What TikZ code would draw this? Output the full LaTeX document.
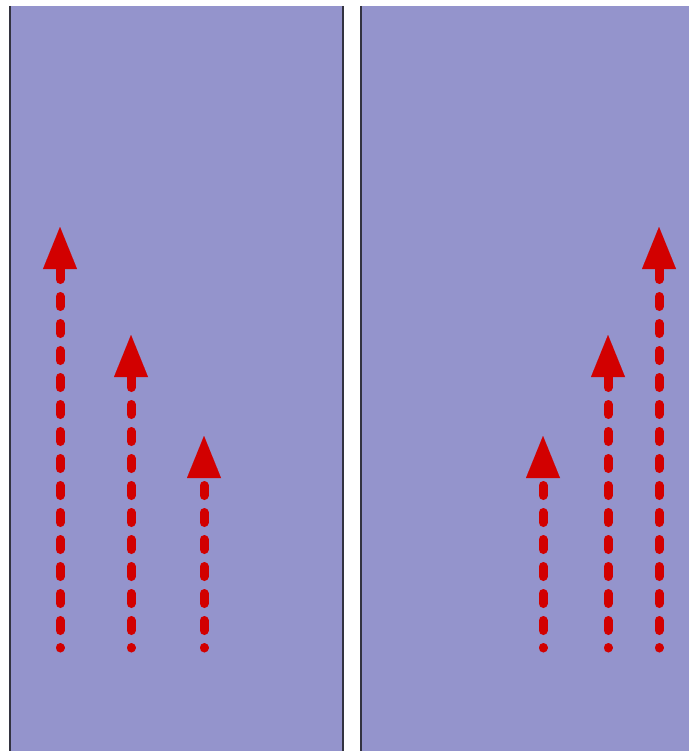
\documentclass[tikz,border=0pt]{standalone}
\usetikzlibrary{arrows.meta}
\definecolor{panelfill}{HTML}{9494CC}
\definecolor{arrowred}{HTML}{D20000}
\definecolor{edge}{HTML}{333340}
\tikzset{
  panel/.style={fill=panelfill, draw=none},
  paneledge/.style={draw=edge, line width=2.2pt},
  flowarrow/.style={draw=arrowred, line width=9pt, line cap=round,
    dash pattern=on 10pt off 17pt, dash phase=9.5pt,
    -{Triangle[width=34pt,length=42pt,line width=0.01pt,fill=arrowred]}}
}
\begin{document}
\begin{tikzpicture}[x=1pt,y=-1pt]
\useasboundingbox (0,0) rectangle (689,751);
% panels
\fill[panel] (10,6) rectangle (343,751);
\fill[panel] (361,6) rectangle (689,751);
\draw[paneledge] (10,6) -- (10,751);
\draw[paneledge] (343,6) -- (343,751);
\draw[paneledge] (361,6) -- (361,751);
% arrow end points
\coordinate (l1s) at (60,648);  \coordinate (l1e) at (60,227);
\coordinate (l2s) at (131,648); \coordinate (l2e) at (131,335);
\coordinate (l3s) at (204,648); \coordinate (l3e) at (204,436);
\coordinate (r1s) at (543,648); \coordinate (r1e) at (543,436);
\coordinate (r2s) at (608,648); \coordinate (r2e) at (608,335);
\coordinate (r3s) at (659,648); \coordinate (r3e) at (659,227);
\draw[flowarrow] (l1s) -- (l1e);
\draw[flowarrow] (l2s) -- (l2e);
\draw[flowarrow] (l3s) -- (l3e);
\draw[flowarrow] (r1s) -- (r1e);
\draw[flowarrow] (r2s) -- (r2e);
\draw[flowarrow] (r3s) -- (r3e);
\end{tikzpicture}
\end{document}
